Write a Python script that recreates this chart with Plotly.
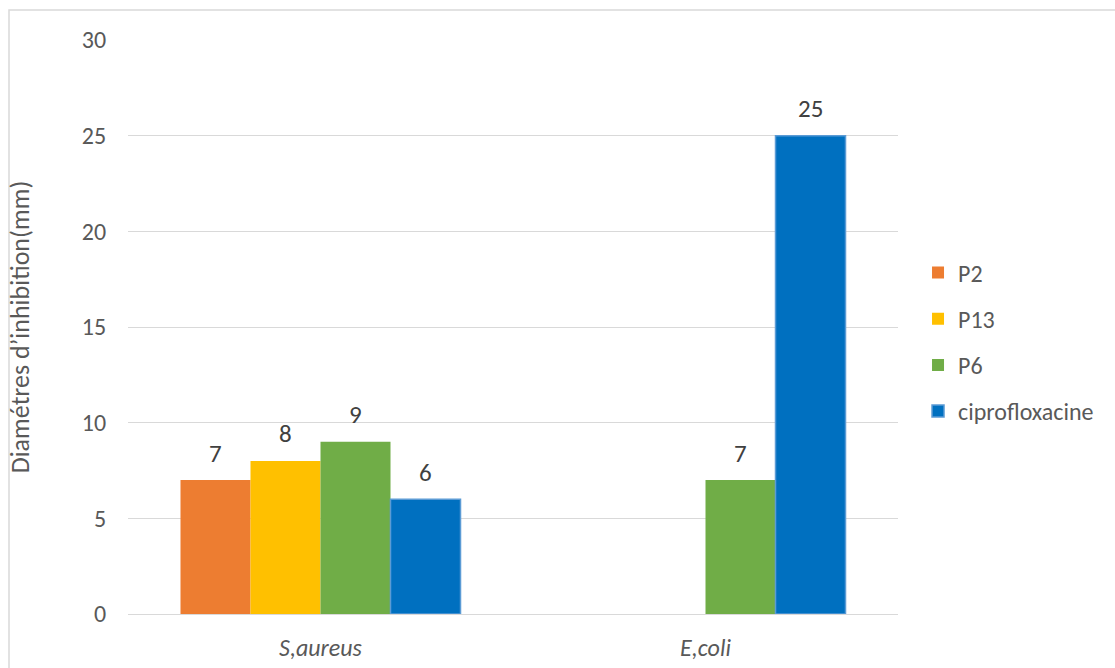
import plotly.graph_objects as go

categories = ["<i>S,aureus</i>", "<i>E,coli</i>"]
series_names = ["P2", "P13", "P6", "ciprofloxacine"]
p2 = [7, None]
p13 = [8, None]
p6 = [9, 7]
cipro = [6, 25]
colors = ["#ED7D31", "#FFC000", "#70AD47", "#0070C0"]
y_ticks = [0, 5, 10, 15, 20, 25, 30]

FONT = "Carlito, Calibri, Lato, sans-serif"
W, H = 1115, 668
L, R, T, B = 128, 217, 40, 54
BARGAP = 0.2727

series_vals = [p2, p13, p6, cipro]

fig = go.Figure()
for name, vals, col in zip(series_names, series_vals, colors):
    line = dict(width=1.5, color="#5B9BD5") if name == "ciprofloxacine" else dict(width=0)
    fig.add_trace(go.Bar(
        name=name, x=categories, y=vals,
        marker=dict(color=col, line=line),
        legendgroup=name,
    ))

# data labels above each bar (positions derived from the grouped-bar geometry)
plot_w = W - L - R
cat_w = plot_w / len(categories)
bar_w = cat_w * (1 - BARGAP) / len(series_names)
annotations = []
for i, vals in enumerate(series_vals):
    off = (i - (len(series_names) - 1) / 2) * bar_w
    for cat, v in zip(categories, vals):
        if v is None:
            continue
        annotations.append(dict(
            x=cat, y=v, xref="x", yref="y", text=str(v), showarrow=False,
            xshift=off, yshift=27, yanchor="middle",
            font=dict(size=25, color="#404040", family=FONT),
        ))

fig.update_layout(
    width=W, height=H,
    margin=dict(l=L, r=R, t=T, b=B, autoexpand=False),
    paper_bgcolor="white", plot_bgcolor="white",
    barmode="group", bargap=BARGAP, bargroupgap=0,
    font=dict(family=FONT, color="#595959", size=24),
    showlegend=True,
    legend=dict(x=1.026, xanchor="left", y=0.474, yanchor="middle",
                font=dict(size=24, color="#595959", family=FONT),
                tracegroupgap=12, itemwidth=30),
    xaxis=dict(showgrid=False, ticks="outside", ticklen=12, tickcolor="rgba(0,0,0,0)",
               tickfont=dict(size=24, color="#595959", family=FONT),
               showline=False, automargin=False),
    yaxis=dict(range=[0, 30], tickvals=y_ticks, showgrid=True, gridcolor="#D9D9D9",
               gridwidth=1, zeroline=True, zerolinecolor="#D9D9D9", zerolinewidth=1,
               ticks="outside", ticklen=16, tickcolor="rgba(0,0,0,0)",
               tickfont=dict(size=24, color="#595959", family=FONT),
               automargin=False,
               title=dict(text="Diamétres d’inhibition(mm)", standoff=44,
                          font=dict(size=26, color="#595959", family=FONT))),
    annotations=annotations,
    shapes=[dict(type="rect", xref="paper", yref="paper",
                 x0=(9 - L) / plot_w, x1=2.0,
                 y0=-1.0, y1=(H - B - 10) / (H - T - B),
                 line=dict(color="#D9D9D9", width=1.5), fillcolor="rgba(0,0,0,0)", layer="below")],
)

fig.write_html("out.html")
